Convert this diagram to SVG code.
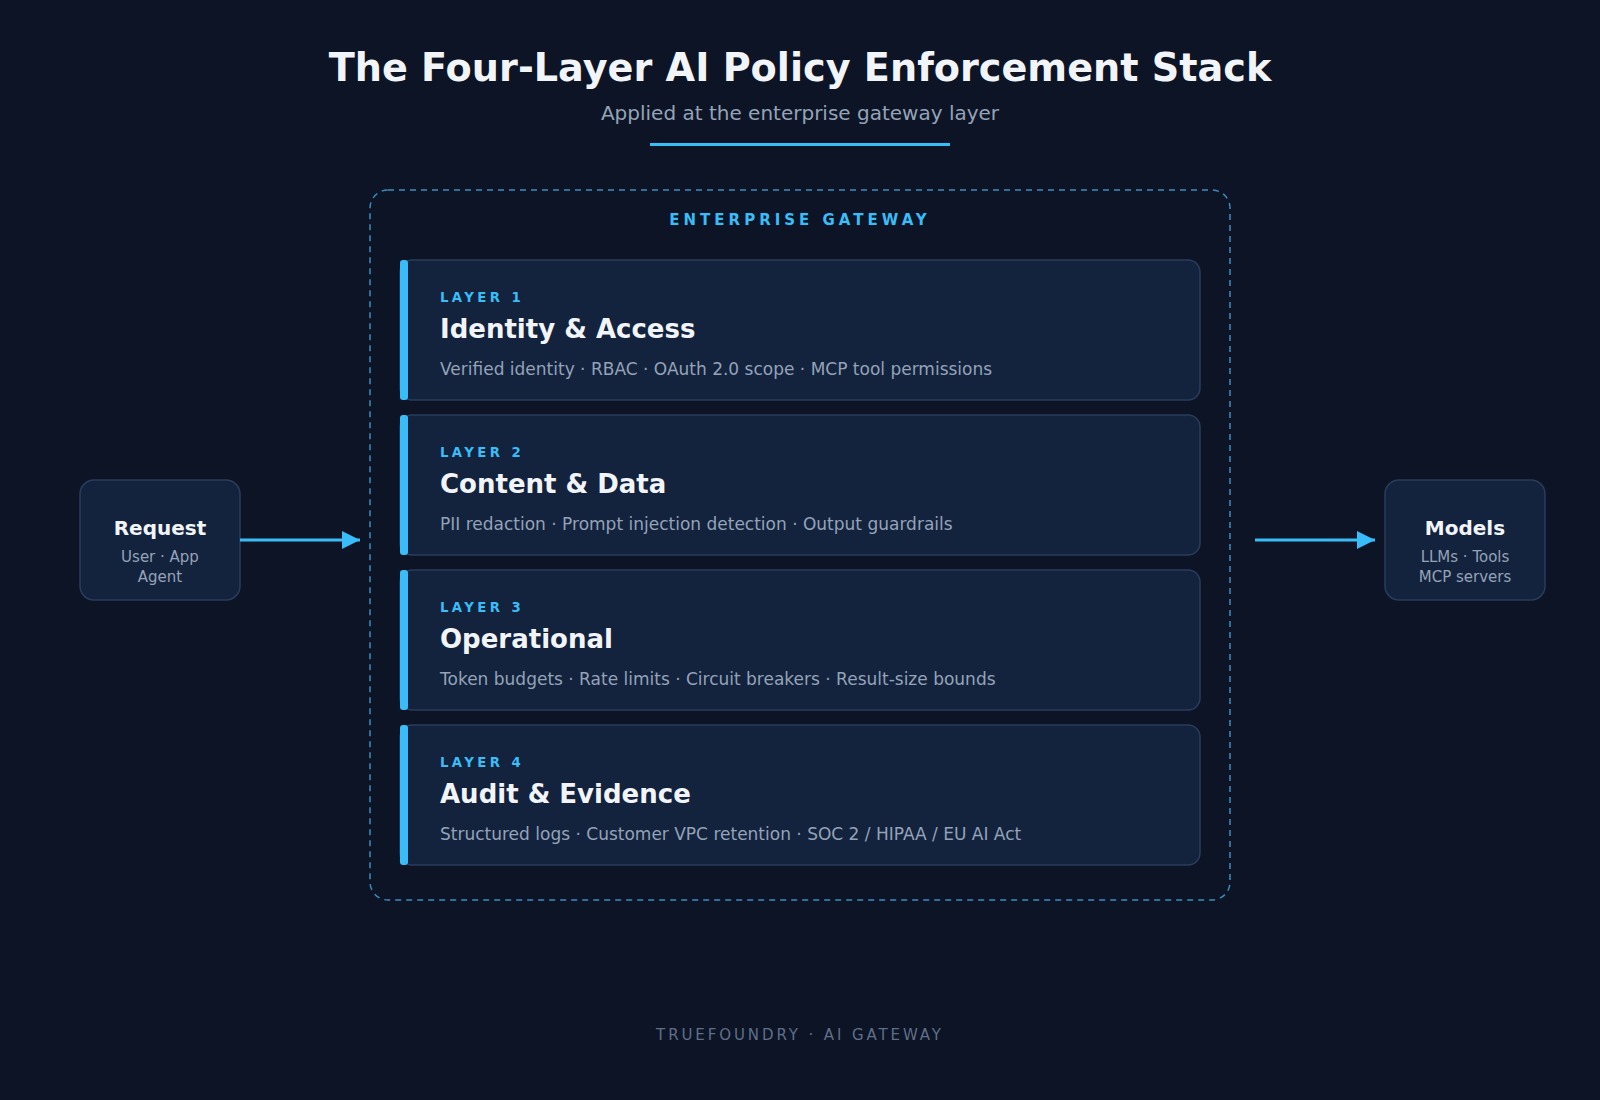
<svg xmlns="http://www.w3.org/2000/svg" width="1600" height="1100" viewBox="0 0 1600 1100">
<defs>
<style>
.t{font-family:"DejaVu Sans",sans-serif}
.title{font-size:38.2px;font-weight:bold;fill:#f1f5f9}
.sub{font-size:20px;fill:#94a3b8}
.gw{font-size:15px;font-weight:bold;fill:#38bdf8;letter-spacing:4px}
.card{fill:#13223d;stroke:#2a3c5c;stroke-width:1.5}
.bar{fill:#38bdf8}
.lnum{font-size:13.3px;font-weight:bold;fill:#38bdf8;letter-spacing:3.4px}
.lt{font-size:26px;font-weight:bold;fill:#f1f5f9}
.ld{font-size:17px;fill:#94a3b8}
.nt{font-size:20px;font-weight:bold;fill:#f1f5f9}
.ns{font-size:15px;fill:#94a3b8}
.conn{stroke:#38bdf8;stroke-width:3;fill:none}
.foot{font-size:15px;fill:#5f6f8a;letter-spacing:2.9px}
</style>
<marker id="ah" viewBox="0 0 10 10" refX="10" refY="5" markerWidth="6" markerHeight="6" markerUnits="strokeWidth" orient="auto">
<path d="M0,0 L10,5 L0,10 z" fill="#38bdf8"/>
</marker>
</defs>
<rect width="1600" height="1100" fill="#0c1425"/>
<g id="header">
<text class="t title" x="800" y="81" text-anchor="middle">The Four-Layer AI Policy Enforcement Stack</text>
<text class="t sub" x="800" y="120" text-anchor="middle">Applied at the enterprise gateway layer</text>
<rect x="650" y="143" width="300" height="3" fill="#38bdf8"/>
</g>
<g id="gateway">
<rect x="370" y="190" width="860" height="710" rx="18" fill="none" stroke="#3b8dbf" stroke-width="1.5" stroke-dasharray="6 5"/>
<text class="t gw" x="800" y="225" text-anchor="middle">ENTERPRISE GATEWAY</text>
</g>
<g id="layer1">
<rect class="card" x="400" y="260" width="800" height="140" rx="12"/>
<rect class="bar" x="400" y="260" width="8" height="140" rx="3"/>
<text class="t lnum" x="440" y="302">LAYER 1</text>
<text class="t lt" x="440" y="338">Identity &amp; Access</text>
<text class="t ld" x="440" y="375">Verified identity · RBAC · OAuth 2.0 scope · MCP tool permissions</text>
</g>
<g id="layer2">
<rect class="card" x="400" y="415" width="800" height="140" rx="12"/>
<rect class="bar" x="400" y="415" width="8" height="140" rx="3"/>
<text class="t lnum" x="440" y="457">LAYER 2</text>
<text class="t lt" x="440" y="493">Content &amp; Data</text>
<text class="t ld" x="440" y="530">PII redaction · Prompt injection detection · Output guardrails</text>
</g>
<g id="layer3">
<rect class="card" x="400" y="570" width="800" height="140" rx="12"/>
<rect class="bar" x="400" y="570" width="8" height="140" rx="3"/>
<text class="t lnum" x="440" y="612">LAYER 3</text>
<text class="t lt" x="440" y="648">Operational</text>
<text class="t ld" x="440" y="685">Token budgets · Rate limits · Circuit breakers · Result-size bounds</text>
</g>
<g id="layer4">
<rect class="card" x="400" y="725" width="800" height="140" rx="12"/>
<rect class="bar" x="400" y="725" width="8" height="140" rx="3"/>
<text class="t lnum" x="440" y="767">LAYER 4</text>
<text class="t lt" x="440" y="803">Audit &amp; Evidence</text>
<text class="t ld" x="440" y="840">Structured logs · Customer VPC retention · SOC 2 / HIPAA / EU AI Act</text>
</g>
<g id="request">
<rect class="card" x="80" y="480" width="160" height="120" rx="14"/>
<text class="t nt" x="160" y="535" text-anchor="middle">Request</text>
<text class="t ns" x="160" y="562" text-anchor="middle">User · App</text>
<text class="t ns" x="160" y="582" text-anchor="middle">Agent</text>
</g>
<g id="models">
<rect class="card" x="1385" y="480" width="160" height="120" rx="14"/>
<text class="t nt" x="1465" y="535" text-anchor="middle">Models</text>
<text class="t ns" x="1465" y="562" text-anchor="middle">LLMs · Tools</text>
<text class="t ns" x="1465" y="582" text-anchor="middle">MCP servers</text>
</g>
<g id="connectors">
<line class="conn" x1="240" y1="540" x2="360" y2="540" marker-end="url(#ah)"/>
<line class="conn" x1="1255" y1="540" x2="1375" y2="540" marker-end="url(#ah)"/>
</g>
<g id="footer">
<text class="t foot" x="800" y="1040" text-anchor="middle">TRUEFOUNDRY · AI GATEWAY</text>
</g>
</svg>
